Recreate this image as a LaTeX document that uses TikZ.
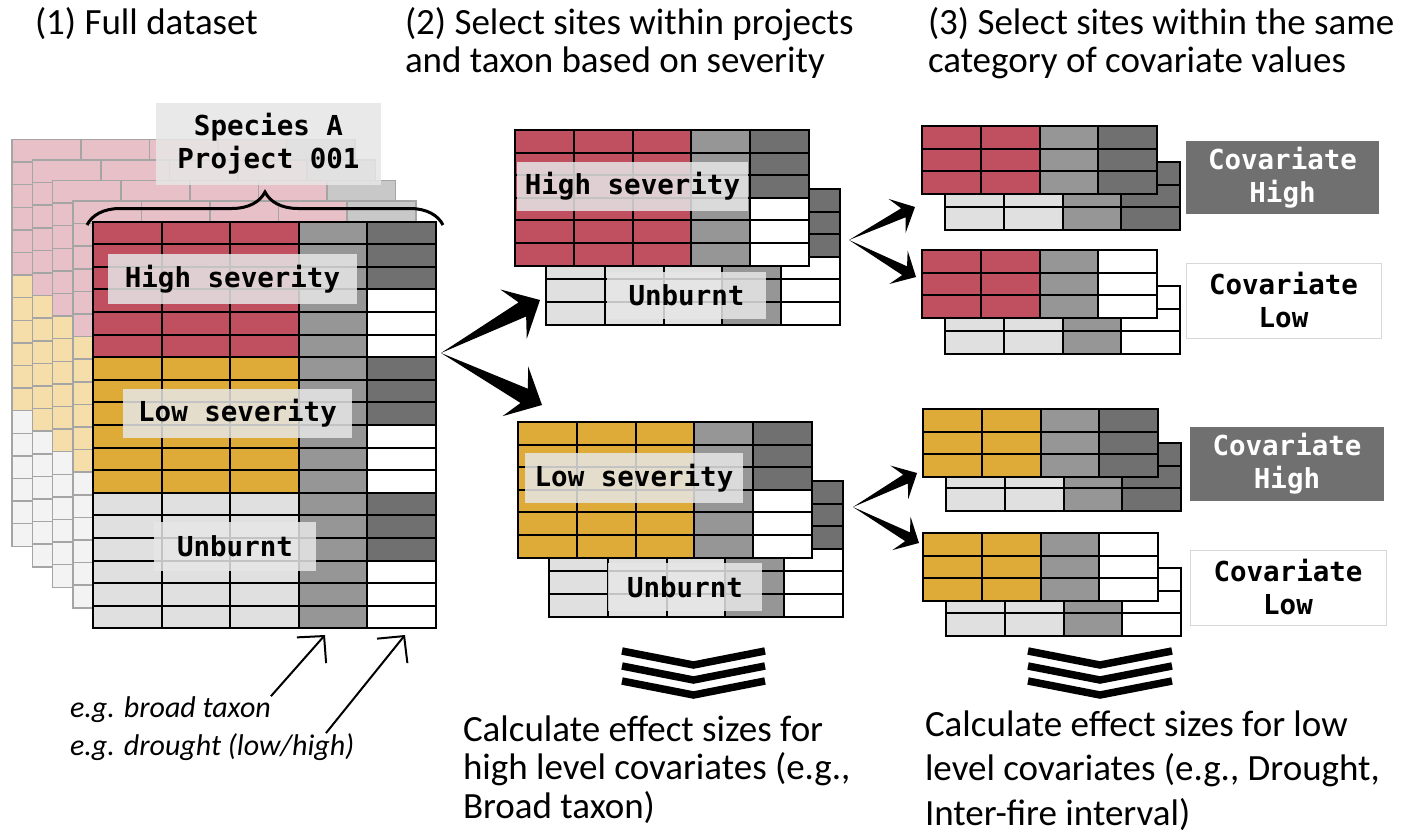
\documentclass[tikz,border=0pt]{standalone}
\usepackage{fontspec}
\setmainfont{Carlito}
\setmonofont{DejaVu Sans Mono}
\usetikzlibrary{calc, arrows.meta, decorations.pathreplacing}

\definecolor{sevhigh}{RGB}{192,80,96}
\definecolor{sevlow}{RGB}{222,170,56}
\definecolor{unburnt}{RGB}{224,224,224}
\definecolor{midgrey}{RGB}{150,150,150}
\definecolor{dkgrey}{RGB}{112,112,112}
\definecolor{fadehigh}{RGB}{232,192,200}
\definecolor{fadelow}{RGB}{246,222,170}
\definecolor{fadenone}{RGB}{243,243,243}
\definecolor{fadegrey}{RGB}{200,200,200}
\definecolor{layerline}{RGB}{165,165,165}
\definecolor{tagfill}{RGB}{230,230,230}
\definecolor{covline}{RGB}{215,215,215}

\newcommand{\rowh}{22.6}

% grid of sites: x, y (top left), column width, cell style, columns given as lists of 3-row blocks
\newcommand{\sitetable}[5]{%
  \foreach \tcol [count=\tx from 0] in {#5}
    \foreach \tfill [count=\tblk from 0] in \tcol
      \foreach \trow in {0,1,2}
        \draw[#4, fill=\tfill] ({#1+\tx*#3}, {#2+(3*\tblk+\trow)*\rowh}) rectangle +(#3, \rowh);
}

% wide black arrow: tail, tip, body half width, notch, head half width, head length
\newcommand{\fatarrow}[6]{%
  \fill (#1) -- ($(#2)!#4!(#1)!#3!90:(#1)$) -- ($(#2)!#6!(#1)!#5!90:(#1)$) -- (#2)
        -- ($(#2)!#6!(#1)!#5!-90:(#1)$) -- ($(#2)!#4!(#1)!#3!-90:(#1)$) -- cycle;
}

\tikzset{
    base/.style={inner sep=0pt, outer sep=0pt},
    heading/.style={base, anchor=base west, align=left, font=\fontsize{37}{38.5}\selectfont},
    notetext/.style={base, anchor=base west, font=\fontsize{30}{38}\selectfont\itshape},
    cell/.style={draw=black, line width=2pt},
    ghostcell/.style={draw=layerline, line width=1.5pt},
    tagbox/.style={base, fill=tagfill, fill opacity=0.85, text opacity=1, align=center, font=\fontsize{27.5}{33}\selectfont\ttfamily\bfseries},
    covhigh/.style={tagbox, fill=dkgrey, fill opacity=1, text=white},
    covlow/.style={tagbox, fill=white, fill opacity=1, draw=covline, line width=1pt},
    chevron/.style={line width=7.5pt},
    pointer/.style={line width=2pt, -{Straight Barb[length=19pt, width=39pt, line width=2pt]}}
}

\begin{document}
\begin{tikzpicture}[x=1pt, y=-1pt]
    \useasboundingbox (0,0) rectangle (1414,840);
    \fill[white] (0,0) rectangle (1414,840);

    % Headings (base = last line)
    \node (head1) [heading] at (35,35) {(1) Full dataset};
    \node (head2) [heading, font=\fontsize{37}{37.5}\selectfont] at (405,72.5) {(2) Select sites within projects\\and taxon based on severity};
    \node (head3) [heading, font=\fontsize{37}{37.5}\selectfont] at (928,72.5) {(3) Select sites within the same\\category of covariate values};

    % Full dataset: faded layers behind
    \foreach \layer in {4,3,2,1} {
        \sitetable{93-20.2*\layer}{221.5-20.5*\layer}{68.6}{ghostcell}{{fadehigh,fadehigh,fadelow,fadelow,fadenone,fadenone},{fadehigh,fadehigh,fadelow,fadelow,fadenone,fadenone},{fadehigh,fadehigh,fadelow,fadelow,fadenone,fadenone},{fadehigh,fadehigh,fadelow,fadelow,fadenone,fadenone},{fadegrey,fadegrey,fadegrey,fadegrey,fadegrey,fadegrey}}
    }

    \node (species) [tagbox, minimum width=225pt, minimum height=82pt] at (268.5,144) {Species A\\Project 001};
    \draw[decorate, decoration={brace, amplitude=33pt}, line width=3pt] (87,225) -- (443,225);

    % Full dataset: front table
    \sitetable{93}{221.5}{68.6}{cell}{{sevhigh,sevhigh,sevlow,sevlow,unburnt,unburnt},{sevhigh,sevhigh,sevlow,sevlow,unburnt,unburnt},{sevhigh,sevhigh,sevlow,sevlow,unburnt,unburnt},{midgrey,midgrey,midgrey,midgrey,midgrey,midgrey},{dkgrey,white,dkgrey,white,dkgrey,white}}
    \node (high1) [tagbox, minimum width=249pt, minimum height=50pt] at (232.5,279) {High severity};
    \node (low1) [tagbox, minimum width=229pt, minimum height=49pt] at (237.5,413.5) {Low severity};
    \node (unb1) [tagbox, minimum width=162pt, minimum height=49pt] at (235,546.5) {Unburnt};

    % Column notes
    \node (egtaxon) [notetext] at (70,717) {e.g. broad taxon};
    \node (egdrought) [notetext] at (70,755) {e.g. drought (low/high)};
    \coordinate (taxoncol) at (325,635);
    \coordinate (droughtcol) at (405,635);
    \draw[pointer] (egtaxon.north east) -- (taxoncol);
    \draw[pointer] ($(egdrought.north west)!0.9!(egdrought.north east)$) -- (droughtcol);

    % Split by severity
    \coordinate (split) at (441,353);
    \coordinate (tohigh) at (540,300);
    \coordinate (tolow) at (542,405);
    \fatarrow{split}{tohigh}{8pt}{20pt}{28pt}{30pt}
    \fatarrow{split}{tolow}{8pt}{20pt}{28pt}{30pt}

    \sitetable{546}{189}{58.8}{cell}{{unburnt,unburnt},{unburnt,unburnt},{unburnt,unburnt},{midgrey,midgrey},{dkgrey,white}}
    \sitetable{515}{130}{58.8}{cell}{{sevhigh,sevhigh},{sevhigh,sevhigh},{sevhigh,sevhigh},{midgrey,midgrey},{dkgrey,white}}
    \node (high2) [tagbox, minimum width=231pt, minimum height=49pt] at (632.5,186.5) {High severity};
    \node (unb2) [tagbox, minimum width=159pt, minimum height=47pt] at (686.5,295.5) {Unburnt};

    \sitetable{549}{481}{58.8}{cell}{{unburnt,unburnt},{unburnt,unburnt},{unburnt,unburnt},{midgrey,midgrey},{dkgrey,white}}
    \sitetable{518}{422}{58.8}{cell}{{sevlow,sevlow},{sevlow,sevlow},{sevlow,sevlow},{midgrey,midgrey},{dkgrey,white}}
    \node (low2) [tagbox, minimum width=218pt, minimum height=50pt] at (634,478) {Low severity};
    \node (unb3) [tagbox, minimum width=154pt, minimum height=48pt] at (685,587) {Unburnt};

    \foreach \dy in {0,15,30}
        \draw[chevron] (622,651+\dy) -- (693.5,665+\dy) -- (765,651+\dy);
    \node (sum2) [heading] at (463,818) {Calculate effect sizes for\\high level covariates (e.g.,\\Broad taxon)};

    % Split by covariate category
    \coordinate (splith) at (849,240);
    \coordinate (tohh) at (915,207);
    \coordinate (tohl) at (916,277);
    \fatarrow{splith}{tohh}{5pt}{13pt}{19pt}{20pt}
    \fatarrow{splith}{tohl}{5pt}{13pt}{19pt}{20pt}
    \coordinate (splitl) at (853,507);
    \coordinate (tolh) at (917,473);
    \coordinate (toll) at (919,543);
    \fatarrow{splitl}{tolh}{5pt}{13pt}{19pt}{20pt}
    \fatarrow{splitl}{toll}{5pt}{13pt}{19pt}{20pt}

    \sitetable{945}{162}{58.8}{cell}{{unburnt},{unburnt},{midgrey},{dkgrey}}
    \sitetable{922}{126}{58.8}{cell}{{sevhigh},{sevhigh},{midgrey},{dkgrey}}
    \sitetable{945}{286}{58.8}{cell}{{unburnt},{unburnt},{midgrey},{white}}
    \sitetable{922}{250}{58.8}{cell}{{sevhigh},{sevhigh},{midgrey},{white}}
    \sitetable{946}{443}{58.8}{cell}{{unburnt},{unburnt},{midgrey},{dkgrey}}
    \sitetable{923}{409}{58.8}{cell}{{sevlow},{sevlow},{midgrey},{dkgrey}}
    \sitetable{946}{568}{58.8}{cell}{{unburnt},{unburnt},{midgrey},{white}}
    \sitetable{923}{533}{58.8}{cell}{{sevlow},{sevlow},{midgrey},{white}}

    \node (covhh) [covhigh, minimum width=193pt, minimum height=73pt] at (1282.5,177.5) {Covariate\\High};
    \node (covhl) [covlow, minimum width=195pt, minimum height=75pt] at (1283.5,300.5) {Covariate\\Low};
    \node (covlh) [covhigh, minimum width=194pt, minimum height=74pt] at (1287,464) {Covariate\\High};
    \node (covll) [covlow, minimum width=196pt, minimum height=75pt] at (1288,587.5) {Covariate\\Low};

    \foreach \dy in {0,15,30}
        \draw[chevron] (1028,651+\dy) -- (1100,665+\dy) -- (1172,651+\dy);
    \node (sum3) [heading, font=\fontsize{37}{44.5}\selectfont] at (925,825) {Calculate effect sizes for low\\level covariates (e.g., Drought,\\Inter-fire interval)};
\end{tikzpicture}
\end{document}
